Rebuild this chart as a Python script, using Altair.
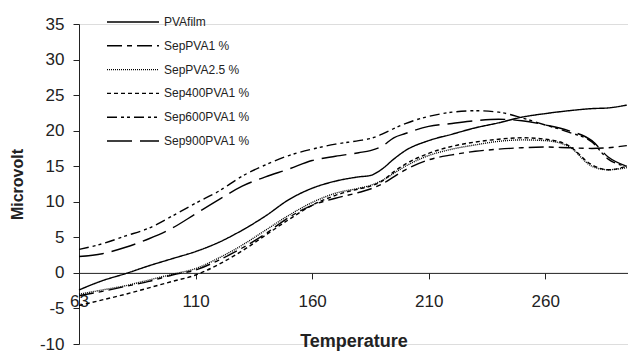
import altair as alt
import pandas as pd

temps = [60, 70, 80, 90, 100, 110, 120, 130, 140, 150, 160, 170, 180, 185, 190, 195, 200,
         210, 220, 230, 240, 250, 260, 270, 280, 287, 295]

series_names = ["PVAfilm", "SepPVA1 %", "SepPVA2.5 %", "Sep400PVA1 %", "Sep600PVA1 %", "Sep900PVA1 %"]

pva_film = [-2.4, -1.1, -0.1, 1.0, 2.0, 3.0, 4.3, 6.0, 8.0, 10.3, 11.9, 12.9, 13.5, 13.7, 14.6, 16.0, 17.2,
            18.6, 19.5, 20.4, 21.1, 21.9, 22.4, 22.8, 23.1, 23.2, 23.6]
sep_pva1 = [-3.2, -2.6, -1.9, -1.2, -0.3, 0.4, 1.8, 3.5, 5.5, 7.8, 9.5, 10.5, 11.3, 11.8, 12.5, 13.5, 14.5,
            15.9, 16.6, 17.1, 17.4, 17.6, 17.7, 17.6, 17.5, 17.6, 17.9]
sep_pva25 = [-3.0, -2.4, -1.8, -1.0, -0.2, 0.6, 2.1, 3.9, 6.0, 8.1, 9.9, 11.2, 11.9, 12.3, 13.0, 14.0, 15.0,
             16.5, 17.4, 18.0, 18.5, 18.7, 18.6, 17.8, 15.0, 14.5, 14.8]
sep400_pva1 = [-4.6, -3.8, -3.0, -2.1, -1.2, -0.3, 1.2, 3.1, 5.3, 7.5, 9.5, 10.9, 11.8, 12.2, 12.9, 14.2, 15.3,
               16.8, 17.8, 18.4, 18.8, 19.0, 18.8, 17.9, 15.2, 14.5, 15.0]
sep600_pva1 = [3.3, 4.1, 5.2, 6.3, 8.0, 9.8, 11.5, 13.6, 15.2, 16.5, 17.4, 18.1, 18.6, 18.9, 19.5, 20.3, 21.0,
               22.0, 22.6, 22.8, 22.6, 21.8, 20.8, 19.8, 18.4, 16.0, 15.0]
sep900_pva1 = [2.3, 2.7, 3.6, 4.8, 6.3, 8.3, 10.3, 12.2, 13.5, 14.6, 15.8, 16.4, 16.9, 17.2, 17.8, 19.0, 19.6,
               20.6, 21.0, 21.4, 21.6, 21.4, 20.8, 20.0, 18.6, 16.3, 15.0]

series_values = [pva_film, sep_pva1, sep_pva25, sep400_pva1, sep600_pva1, sep900_pva1]
dash_patterns = [[1, 0], [15, 5, 5, 5], [1, 1], [4, 3], [10, 4, 3, 3, 3, 4], [25, 8]]

x_tick_values = [60, 110, 160, 210, 260]
x_tick_labels = ["63", "110", "160", "210", "260"]
y_tick_values = [-10, -5, 0, 5, 10, 15, 20, 25, 30, 35]

rows = []
for name, vals in zip(series_names, series_values):
    for t, v in zip(temps, vals):
        rows.append({"Temperature": t, "Microvolt": v, "Series": name})
df = pd.DataFrame(rows)

label_expr = " : ".join(
    [f"datum.value == {v} ? '{l}'" for v, l in zip(x_tick_values, x_tick_labels)]
) + " : datum.label"

FONT = "Liberation Sans"

chart = alt.Chart(df).mark_line(color="black", strokeWidth=1.4, interpolate="monotone").encode(
    x=alt.X("Temperature:Q",
            scale=alt.Scale(domain=[60, 295.5], nice=False, zero=False),
            axis=alt.Axis(values=x_tick_values, labelExpr=label_expr, offset=-71.1, labelFlush=False,
                          grid=False, domainColor="#222", tickColor="#222", tickSize=6,
                          labelFont=FONT, labelFontSize=17, labelColor="#222", labelPadding=15,
                          title="Temperature", titleFont=FONT, titleFontSize=18, titleFontWeight="bold",
                          titleColor="#222", titlePadding=23)),
    y=alt.Y("Microvolt:Q",
            scale=alt.Scale(domain=[-10, 35], nice=False, zero=False),
            axis=alt.Axis(values=y_tick_values, labelExpr="'' + datum.value", grid=False,
                          domainColor="#222", tickColor="#222", labelFlush=False,
                          tickSize=6, labelFont=FONT, labelFontSize=17, labelColor="#222",
                          labelPadding=9, title="Microvolt", titleFont=FONT, titleFontSize=16,
                          titleFontWeight="bold", titleColor="#222", titlePadding=14)),
    strokeDash=alt.StrokeDash("Series:N",
                              scale=alt.Scale(domain=series_names, range=dash_patterns),
                              legend=alt.Legend(title=None, orient="none", legendX=27, legendY=-8,
                                                symbolType="stroke", symbolSize=2704,
                                                symbolStrokeWidth=1.4, symbolStrokeColor="black",
                                                clipHeight=12,
                                                labelFont=FONT, labelFontSize=12, labelColor="#222",
                                                labelOffset=4, rowPadding=11.8, padding=0)),
    order=alt.Order("Temperature:Q"),
).properties(
    width=549, height=320,
    autosize=alt.AutoSizeParams(type="none"),
    padding={"left": 79, "top": 24, "right": 0, "bottom": 8},
).configure_view(stroke=None).configure(background="white")

chart.save("out.html", embed_options={"renderer": "svg", "actions": False})
